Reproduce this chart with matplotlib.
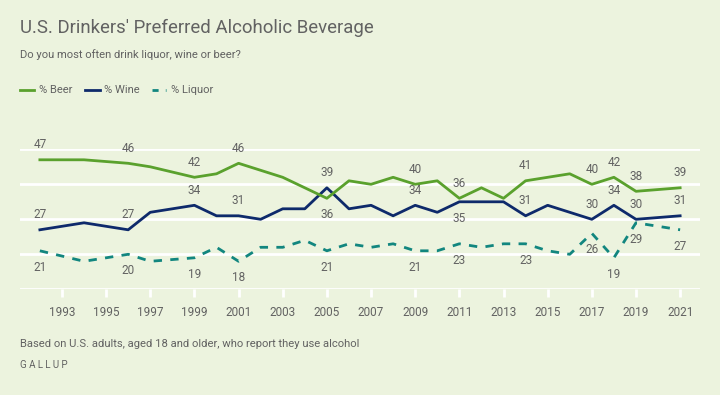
import matplotlib
matplotlib.use("Agg")
import matplotlib.pyplot as plt

years = [1992, 1994, 1996, 1997, 1999, 2000, 2001, 2002, 2003, 2004, 2005, 2006, 2007,
         2008, 2009, 2010, 2011, 2012, 2013, 2014, 2015, 2016, 2017, 2018, 2019, 2021]
beer = [47, 47, 46, 45, 42, 43, 46, 44, 42, 39, 36, 41, 40,
        42, 40, 41, 36, 39, 36, 41, 42, 43, 40, 42, 38, 39]
wine = [27, 29, 27, 32, 34, 31, 31, 30, 33, 33, 39, 33, 34,
        31, 34, 32, 35, 35, 35, 31, 34, 32, 30, 34, 30, 31]
liquor = [21, 18, 20, 18, 19, 22, 18, 22, 22, 24, 21, 23, 22,
          23, 21, 21, 23, 22, 23, 23, 21, 20, 26, 19, 29, 27]

labeled_years = [1992, 1996, 1999, 2001, 2005, 2009, 2011, 2014, 2017, 2018, 2019, 2021]
# label placement: +1 above, -1 below
beer_pos = {2005: -1}
wine_pos = {2011: -1}

tick_years = list(range(1993, 2022, 2))

BG = "#ecf3de"
GREEN = "#5aa12d"
NAVY = "#0e2a6b"
TEAL = "#12867f"
TXT = "#626262"

plt.rcParams['font.family'] = ['Roboto', 'DejaVu Sans']

fig = plt.figure(figsize=(7.2, 3.95), dpi=100, facecolor=BG)
ax = fig.add_axes([20/720, 1-289.3/395, 680/720, 140/395])
ax.set_facecolor(BG)
ax.set_xlim(1991.1, 2021.9)
ax.set_ylim(10, 50)

for g in [10, 20, 30, 40, 50]:
    ax.axhline(g, color="white", lw=2, zorder=1)

ax.plot(years, liquor, color=TEAL, lw=2, ls=(0, (3, 3)), zorder=3)
ax.plot(years, wine, color=NAVY, lw=2, zorder=4)
ax.plot(years, beer, color=GREEN, lw=2, zorder=5)

for s in ax.spines.values():
    s.set_visible(False)
ax.set_yticks([])
ax.set_xticks(tick_years)
ax.set_xticklabels([str(y) for y in tick_years], fontsize=8.5, color=TXT)
ax.tick_params(axis='x', length=6, width=2, color="white", pad=6)

def lab(series, pos_map, default):
    for y in labeled_years:
        i = years.index(y)
        v = series[i]
        p = pos_map.get(y, default)
        off = 11 if p > 0 else -12
        ax.annotate(str(v), (y, v), xytext=(0, off), textcoords="offset points",
                    ha="center", va="center", fontsize=8.5, color=TXT, zorder=6)

lab(beer, beer_pos, 1)
lab(wine, wine_pos, 1)
lab(liquor, {}, -1)

fig.text(20/720, 1-28/395, "U.S. Drinkers' Preferred Alcoholic Beverage", fontsize=13.4,
         color=TXT, ha="left", va="center")
fig.text(20/720, 1-55/395, "Do you most often drink liquor, wine or beer?", fontsize=8.1,
         color=TXT, ha="left", va="center")

# legend
ly = 1-90/395
fig.add_artist(plt.Line2D([20/720, 34/720], [ly, ly], color=GREEN, lw=2))
fig.text(39/720, ly, "% Beer", fontsize=8, color=TXT, ha="left", va="center")
fig.add_artist(plt.Line2D([85/720, 100/720], [ly, ly], color=NAVY, lw=2))
fig.text(104/720, ly, "% Wine", fontsize=8, color=TXT, ha="left", va="center")
fig.add_artist(plt.Line2D([152/720, 166/720], [ly, ly], color=TEAL, lw=2, ls=(0, (2.2, 2.6))))
fig.text(171/720, ly, "% Liquor", fontsize=8, color=TXT, ha="left", va="center")

fig.text(20/720, 1-344/395, "Based on U.S. adults, aged 18 and older, who report they use alcohol",
         fontsize=8.1, color=TXT, ha="left", va="center")
fig.text(20/720, 1-365/395, "G A L L U P", fontsize=7, color=TXT, ha="left", va="center")

fig.savefig("out.png", dpi=100, facecolor=BG)
